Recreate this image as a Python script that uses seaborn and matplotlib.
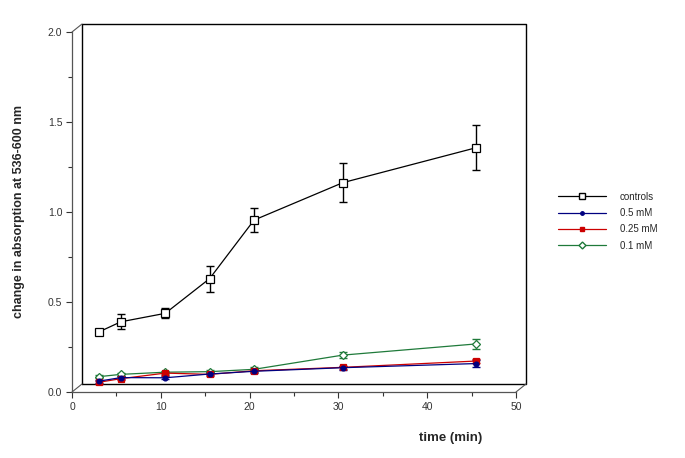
import matplotlib
matplotlib.use("Agg")
import matplotlib.pyplot as plt
from matplotlib.lines import Line2D
import seaborn as sns
import pandas as pd

time = [3, 5.5, 10.5, 15.5, 20.5, 30.5, 45.5]
controls = [0.333, 0.39, 0.437, 0.63, 0.955, 1.163, 1.357]
controls_err = [0.01, 0.042, 0.028, 0.072, 0.068, 0.108, 0.124]
mm05 = [0.06, 0.08, 0.079, 0.10, 0.115, 0.135, 0.158]
mm05_err = [0.008, 0.008, 0.008, 0.008, 0.008, 0.01, 0.02]
mm025 = [0.054, 0.074, 0.105, 0.098, 0.118, 0.137, 0.172]
mm025_err = [0.008, 0.008, 0.008, 0.008, 0.008, 0.01, 0.012]
mm01 = [0.085, 0.098, 0.11, 0.113, 0.126, 0.205, 0.267]
mm01_err = [0.008, 0.008, 0.008, 0.008, 0.015, 0.018, 0.026]

labels = ["controls", "0.5 mM", "0.25 mM", "0.1 mM"]
values = [controls, mm05, mm025, mm01]
errors = [controls_err, mm05_err, mm025_err, mm01_err]

colors = {"controls": "black", "0.5 mM": "#000080", "0.25 mM": "#cc0000", "0.1 mM": "#1f7a3a"}
markers = {"controls": "s", "0.5 mM": "o", "0.25 mM": "s", "0.1 mM": "D"}
mfc = {"controls": "white", "0.5 mM": "#000080", "0.25 mM": "#cc0000", "0.1 mM": "white"}
msize = {"controls": 5.5, "0.5 mM": 3.5, "0.25 mM": 4.5, "0.1 mM": 4.5}

rows = []
for lab, vals, errs in zip(labels, values, errors):
    for t, v, e in zip(time, vals, errs):
        rows.append({"time": t, "value": v, "err": e, "series": lab})
df = pd.DataFrame(rows)

sns.set_style("white")
plt.rcParams["font.family"] = ["Liberation Sans", "DejaVu Sans"]

fig = plt.figure(figsize=(6.85, 4.58), dpi=100)
ax = fig.add_axes([72/685, 1-392/458, 444/685, 360/458])

for lab in labels[::-1]:
    sub = df[df["series"] == lab]
    ax.errorbar(sub["time"], sub["value"], yerr=sub["err"], fmt="none",
                ecolor=colors[lab], elinewidth=1.0, capsize=3, capthick=1.0, zorder=2)
    sns.lineplot(data=sub, x="time", y="value", ax=ax, color=colors[lab],
                 marker=markers[lab], markersize=msize[lab], markerfacecolor=mfc[lab],
                 markeredgecolor=colors[lab], markeredgewidth=0.9, linewidth=0.9,
                 legend=False, zorder=3)

ax.set_xlim(0, 50)
ax.set_ylim(0, 2.0)
ax.set_xticks([0, 10, 20, 30, 40, 50])
ax.set_xticks([5, 15, 25, 35, 45], minor=True)
ax.set_yticks([0, 0.5, 1.0, 1.5, 2.0])
ax.set_yticklabels(["0.0", "0.5", "1.0", "1.5", "2.0"])
ax.set_yticks([0.25, 0.75, 1.25, 1.75], minor=True)
ax.tick_params(axis="both", which="both", direction="out", labelsize=7.5, colors="#333333",
               length=4, width=0.8, pad=3)
ax.tick_params(which="major", bottom=True, left=True)
ax.tick_params(which="minor", bottom=True, left=True, length=3)
ax.spines["top"].set_visible(False)
ax.spines["right"].set_visible(False)
for s in ["left", "bottom"]:
    ax.spines[s].set_color("#555555")
    ax.spines[s].set_linewidth(0.9)
ax.set_facecolor("none")

# 3D-style back frame
dx, dy = 10/444, 8/360
kw = dict(transform=ax.transAxes, clip_on=False, color="black", linewidth=1.0, zorder=1)
ax.add_line(Line2D([dx, 1+dx, 1+dx, dx, dx], [dy, dy, 1+dy, 1+dy, dy], **kw))
kw2 = dict(transform=ax.transAxes, clip_on=False, color="#555555", linewidth=0.8, zorder=1)
ax.add_line(Line2D([0, dx], [0, dy], **kw2))
ax.add_line(Line2D([0, dx], [1, 1+dy], **kw2))
ax.add_line(Line2D([1, 1+dx], [0, dy], **kw2))

ax.set_xlabel("time (min)", fontsize=9.5, fontweight="bold")
ax.xaxis.set_label_coords(0.853, -0.112)
ax.set_ylabel("change in absorption at 536-600 nm", fontsize=9, fontweight="bold")
ax.yaxis.set_label_coords(-0.106, 0.5)

handles = []
for lab in labels:
    handles.append(Line2D([], [], color=colors[lab], marker=markers[lab],
                          markersize=msize[lab]-1, markerfacecolor=mfc[lab],
                          markeredgecolor=colors[lab], linewidth=0.9))
fig.legend(handles, labels, loc="upper left", bbox_to_anchor=(549/685, 1-183/458),
           frameon=False, fontsize=7, handlelength=5.0, handletextpad=1.4,
           labelspacing=0.65)

fig.savefig("out.png", dpi=100)
